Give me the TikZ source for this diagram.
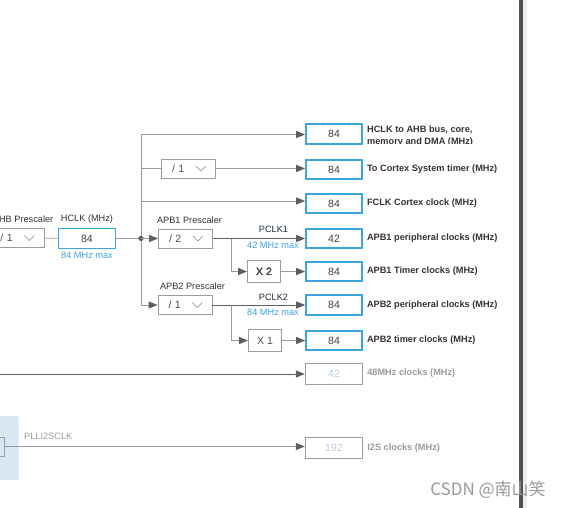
\documentclass[tikz,border=0pt]{standalone}
\usepackage{fontspec}
\setmainfont{Liberation Sans}
\newfontfamily\cjk{Noto Sans CJK SC}
\usetikzlibrary{arrows.meta,positioning,calc}
\definecolor{hclkblue}{HTML}{3AA6DA}
\definecolor{wire}{HTML}{999999}
\definecolor{darkwire}{HTML}{5E5E5E}
\definecolor{boxgray}{HTML}{9C9C9C}
\definecolor{labeltext}{HTML}{333333}
\definecolor{maxblue}{HTML}{3DA5E0}
\definecolor{pclktext}{HTML}{1F2D3D}
\definecolor{fadetext}{HTML}{9A9A9A}
\definecolor{fadenum}{HTML}{B9CCDD}
\definecolor{panelblue}{HTML}{DAE8F5}
\tikzstyle{clkbox}=[draw=hclkblue,line width=1.7pt,minimum width=56pt,minimum height=19.5pt,inner sep=0pt,text=black!75,font=\fontsize{10.5}{12}\selectfont]
\tikzstyle{offbox}=[draw=boxgray,line width=0.8pt,minimum width=57.5pt,minimum height=21pt,inner sep=0pt,text=fadenum,font=\fontsize{10.5}{12}\selectfont]
\tikzstyle{prebox}=[draw=boxgray,line width=0.8pt,minimum height=19pt,inner xsep=10.5pt,text width=33pt,align=left,text=black!70,font=\fontsize{10.5}{12}\selectfont]
\tikzstyle{mulbox}=[draw=boxgray,line width=0.8pt,minimum width=33pt,minimum height=21.5pt,inner sep=0pt,text=black!70,font=\fontsize{10.5}{12}\selectfont]
\tikzstyle{clklabel}=[anchor=west,inner sep=0pt,text=labeltext,font=\bfseries\fontsize{9.2}{12}\selectfont]
\tikzstyle{small}=[inner sep=0pt,text=labeltext,font=\fontsize{9.2}{11}\selectfont]
\tikzstyle{plain}=[draw=wire,line width=0.9pt]
\tikzstyle{feed}=[draw=wire,line width=0.9pt,-{Triangle[length=9pt,width=7pt,color=darkwire]}]
\tikzstyle{darkfeed}=[feed,draw=darkwire]
\newcommand\dropmark[1]{\draw[boxgray,line width=0.8pt] ([xshift=-20pt,yshift=2.5pt]#1.east) -- ++(5,5) -- ++(5,-5);}

\begin{document}
\begin{tikzpicture}[x=1pt,y=-1pt]

   \useasboundingbox (0,0) rectangle (570,508);
   \fill[white] (0,0) rectangle (570,508);

   % right hand scroll bar
   \fill[black!68] (519,0) rectangle (522.7,508);
   \fill[black!7] (522.7,0) rectangle (526.7,508);

   % output boxes
   \foreach \pos/ \name / \val in {134/hclkout/84, 169.5/systick/84, 203.5/fclk/84, 238.5/pclkone/42, 271.5/timone/84, 305/pclktwo/84, 340.5/timtwo/84}
        \node[clkbox] (\name) at (334,\pos) {\val};
   \node[offbox] (usbout) at (334,373.5) {42};
   \node[offbox] (i2sout) at (334,448) {192};

   \begin{scope}
     \clip (360,115) rectangle (518,144);
     \node[clklabel,anchor=north west,align=left] (hclkoutlabel) at (367,125.3) {HCLK to AHB bus, core,\\memory and DMA (MHz)};
   \end{scope}
   \foreach \name / \label in {systick/To Cortex System timer (MHz), fclk/FCLK Cortex clock (MHz), pclkone/APB1 peripheral clocks (MHz), timone/APB1 Timer clocks (MHz), pclktwo/APB2 peripheral clocks (MHz), timtwo/APB2 timer clocks (MHz)}
        \node[clklabel] (\name label) at ([xshift=4pt]\name.east) {\label};
   \node[clklabel,text=fadetext] (usblabel) at ([xshift=4pt]usbout.east) {48MHz clocks (MHz)};
   \node[clklabel,text=fadetext] (i2slabel) at ([xshift=4pt]i2sout.east) {I2S clocks (MHz)};

   % prescalers and multipliers
   \node[prebox] (ahbpre) at (17,238) {/ 1};
   \node[prebox] (systpre) at (188.5,168.5) {/ 1};
   \node[prebox] (apbonepre) at (185.5,238.5) {/ 2};
   \node[prebox] (apbtwopre) at (185,305) {/ 1};
   \foreach \name in {ahbpre, systpre, apbonepre, apbtwopre}
        \dropmark{\name}
   \node[mulbox] (xtwo) at (264,271.5) {X 2};
   \node[mulbox] (xone) at (265,340.5) {X 1};

   \node[clkbox,minimum width=57pt,minimum height=20pt] (hclk) at (87,238.5) {84};

   % texts round the boxes
   \node[small,anchor=east] (ahblabel) at (53.5,219.5) {AHB Prescaler};
   \node[small] (hclklabel) at (87,219.5) {HCLK (MHz)};
   \node[small,text=maxblue] (hclkmax) at (87,255.5) {84 MHz max};
   \node[small] (apbonelabel) at (189.5,220) {APB1 Prescaler};
   \node[small] (apbtwolabel) at (192.5,286) {APB2 Prescaler};
   \node[small,text=pclktext] (pclkonename) at (273.5,229.5) {PCLK1};
   \node[small,text=maxblue] (pclkonemax) at (273,245) {42 MHz max};
   \node[small,text=pclktext] (pclktwoname) at (273.5,297.5) {PCLK2};
   \node[small,text=maxblue] (pclktwomax) at (273,312) {84 MHz max};

   % bus
   \coordinate (bustop) at (141,134.5);
   \coordinate (bussyst) at (141,168.5);
   \coordinate (busfclk) at (141,201);
   \coordinate (busbot) at (141,305);
   \coordinate (junct) at (141,238.5);
   \coordinate (apbonebranch) at (231,238.5);
   \coordinate (apbtwobranch) at (231,305);

   \draw[plain] (ahbpre) -- (hclk);
   \draw[plain] (hclk) -- (junct);
   \draw[plain] (bustop) -- (busbot);
   \fill[darkwire] (junct) circle (2.6pt);
   \draw[feed] (bustop) -- (bustop -| hclkout.west);
   \draw[plain] (bussyst) -- (systpre);
   \draw[feed] (systpre.east) -- (systpre.east -| systick.west);
   \draw[feed] (busfclk) -- (busfclk -| fclk.west);
   \draw[feed] (junct) -- (apbonepre);
   \draw[feed] (busbot) -- (apbtwopre);

   % APB1 and APB2 outputs
   \draw[darkfeed] (apbonepre.east) -- (pclkone.west);
   \draw[feed] (apbonebranch) |- (xtwo.west);
   \draw[feed] (xtwo) -- (timone);
   \draw[darkfeed] (apbtwopre.east) -- (pclktwo.west);
   \draw[feed] (apbtwobranch) |- (xone.west);
   \draw[feed] (xone) -- (timtwo);

   % 48MHz line
   \coordinate (usbsrc) at (0,374);
   \draw[darkfeed] (usbsrc) -- (usbsrc -| usbout.west);

   % PLLI2S panel
   \fill[panelblue, rounded corners=1pt] (-2,416) rectangle (18.5,480);
   \node[draw=boxgray,line width=0.8pt,minimum width=20pt,minimum height=19pt,inner sep=0pt] (plli2s) at (-6,446.5) {};
   \node[small,text=fadetext,anchor=west] (plli2slabel) at (24,436.5) {PLLI2SCLK};
   \draw[feed,draw=black!40] (plli2s.east) -- (plli2s.east -| i2sout.west);

   \node[font=\cjk\fontsize{17}{20}\selectfont,text=black!40,inner sep=0pt] (mark) at (488,490) {CSDN @南山笑};

\end{tikzpicture}
\end{document}
